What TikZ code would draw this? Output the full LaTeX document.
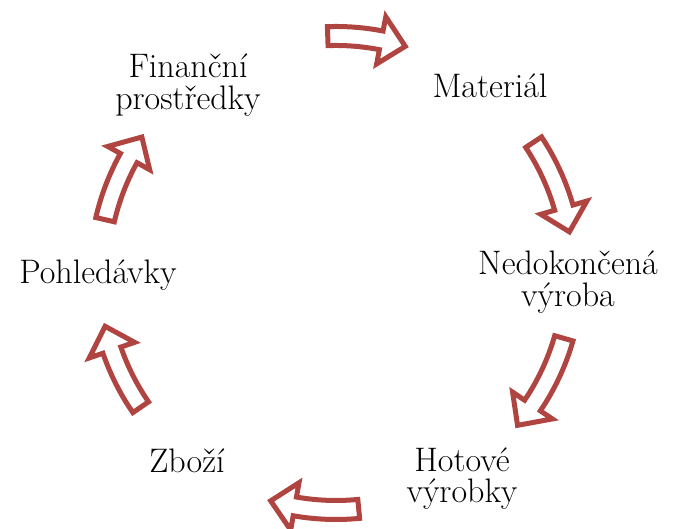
\documentclass[tikz,border=0pt]{standalone}
\usepackage{fontspec}
\definecolor{arrowred}{RGB}{176,68,64}
\tikzset{
  lbl/.style={anchor=base, inner sep=0pt, font=\fontsize{34}{32}\selectfont, text=black},
  blockarrow/.style={draw=arrowred, fill=white, line width=5pt, line join=miter, miter limit=6}
}
\newcommand\Rmid{237}
\newcommand\Wsh{9.5}
\newcommand\Whd{24}
\newcommand\HeadAng{6}
% #1 tail angle, #2 tip angle (clockwise: #1 > #2)
\newcommand\curvedarrow[2]{%
  \pgfmathsetmacro\hbase{#2+\HeadAng}%
  \pgfmathsetmacro\ro{\Rmid+\Wsh}%
  \pgfmathsetmacro\ri{\Rmid-\Wsh}%
  \pgfmathsetmacro\rho{\Rmid+\Whd}%
  \pgfmathsetmacro\rhi{\Rmid-\Whd}%
  \draw[blockarrow] (#1:\ro pt) arc[start angle=#1, end angle=\hbase, radius=\ro pt]
    -- (\hbase:\rho pt) -- (#2:\Rmid pt) -- (\hbase:\rhi pt) -- (\hbase:\ri pt)
    arc[start angle=\hbase, end angle=#1, radius=\ri pt] -- cycle;
}
\begin{document}
\begin{tikzpicture}[x=1pt,y=1pt]
\useasboundingbox (0,0) rectangle (673,529);
\begin{scope}[shift={(336,256)}]
  \curvedarrow{92}{73}
  \curvedarrow{33.5}{10}
  \curvedarrow{-16}{-40}
  \curvedarrow{-84.5}{-106}
  \curvedarrow{214.5}{193}
  \curvedarrow{167}{145}
\end{scope}
\node[lbl] (fin1) at (188,451) {Finanční};
\node[lbl] (fin2) at (188,419) {prostředky};
\node[lbl] (mat) at (490,431) {Materiál};
\node[lbl] (ned1) at (568,254) {Nedokončená};
\node[lbl] (ned2) at (568,222) {výroba};
\node[lbl] (hot1) at (462,57) {Hotové};
\node[lbl] (hot2) at (462,26) {výrobky};
\node[lbl] (zbo) at (187,56) {Zboží};
\node[lbl] (poh) at (98,245) {Pohledávky};
\end{tikzpicture}
\end{document}
